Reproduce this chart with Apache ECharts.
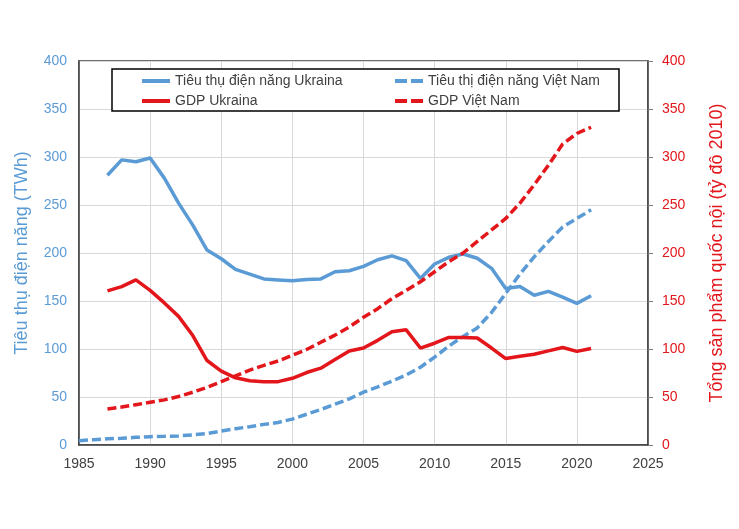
<!DOCTYPE html>
<html>
<head>
<meta charset="utf-8">
<script src="https://cdn.jsdelivr.net/npm/echarts@6/dist/echarts.min.js"></script>
<style>
html,body{margin:0;padding:0;background:#fff;}
#chart{width:739px;height:529px;}
</style>
</head>
<body>
<div id="chart"></div>
<script>
// Data
const years = [1985,1986,1987,1988,1989,1990,1991,1992,1993,1994,1995,1996,1997,1998,1999,2000,2001,2002,2003,2004,2005,2006,2007,2008,2009,2010,2011,2012,2013,2014,2015,2016,2017,2018,2019,2020,2021];
const elecUkraine = [null,null,281,297,295,299,278,252,229,203,194,183,178,173,172,171,172.5,173,180.5,181.5,186,193,197,192,173.5,188.5,195.5,199,194.5,184,163,165,156,160,154,147.5,155.5];
const elecVietnam = [4.5,5.5,6.5,7,8,8.7,9,9.5,10.5,12,14.5,17,19,21.5,23.5,27,32,37,42.5,48,55,60.5,66.5,73,81,91.5,103,113,122,138,158,178,196,212,227,236,245];
const gdpUkraine = [null,null,160.5,165,172,161,148,134,114,88,77,70,67,66,66,69.5,75.5,80,89,98,101,109,118,120,101,106,112,112,111.5,101,90,92.5,94.5,98,101.5,97.5,100.5];
const gdpVietnam = [null,null,37.5,39.5,42,44.5,47,50.5,55,60,66,72,78,83,87.5,93.5,99.5,107,114.5,123,133,142,152.5,161,170,180.5,191,200,212,224,236,252,271,291.5,313.5,324.5,331];
const names = ['Tiêu thụ điện năng Ukraina','Tiêu thị điện năng Việt Nam','GDP Ukraina','GDP Việt Nam'];

const BLUE = '#5B9BD5';
const RED = '#E3161B';
const FONT = 'Liberation Sans, Arial, sans-serif';

function pairs(arr){ return years.map((y,i)=>[y, arr[i]]).filter(p=>p[1]!==null); }

const legendBase = {
  orient:'vertical', top:74, itemWidth:28, itemHeight:14, itemGap:6, z:60, padding:0,
  itemStyle:{color:'rgba(0,0,0,0)', borderColor:'rgba(0,0,0,0)', borderWidth:0},
  textStyle:{fontFamily:FONT, fontSize:14, color:'#404040'}
};

const chart = echarts.init(document.getElementById('chart'), null, {renderer:'canvas'});
chart.setOption({
  animation:false,
  backgroundColor:'#fff',
  textStyle:{fontFamily:FONT},
  grid:{left:79, right:91, top:61, bottom:84, show:true, borderColor:'#404040', borderWidth:1.5, containLabel:false},
  graphic:[{
    type:'rect', z:50, shape:{x:112, y:69, width:507, height:42},
    style:{fill:'#fff', stroke:'#000', lineWidth:1.5}
  }],
  legend:[
    Object.assign({}, legendBase, {left:140, data:[names[0], names[2]], lineStyle:{width:4}}),
    Object.assign({}, legendBase, {left:393, data:[names[1], names[3]], lineStyle:{width:4, type:[12,4]}})
  ],
  xAxis:{
    type:'value', min:1985, max:2025, interval:5,
    axisLine:{show:true, lineStyle:{color:'#404040', width:1.5}},
    axisTick:{show:false},
    axisLabel:{color:'#404040', fontSize:14, fontFamily:FONT, margin:12, formatter:v=>String(v)},
    splitLine:{show:true, lineStyle:{color:'#D9D9D9', width:1}}
  },
  yAxis:[{
    type:'value', min:0, max:400, interval:50, position:'left',
    name:'Tiêu thụ điện năng (TWh)', nameLocation:'middle', nameGap:48,
    nameTextStyle:{color:BLUE, fontSize:18, fontFamily:FONT},
    axisLine:{show:true, lineStyle:{color:'#404040', width:1.5}},
    axisTick:{show:false},
    axisLabel:{color:BLUE, fontSize:14, fontFamily:FONT, margin:12},
    splitLine:{show:true, lineStyle:{color:'#D9D9D9', width:1}}
  },{
    type:'value', min:0, max:400, interval:50, position:'right',
    name:'Tổng sản phẩm quốc nội (tỷ đô 2010)', nameLocation:'middle', nameGap:60,
    nameTextStyle:{color:RED, fontSize:18, fontFamily:FONT},
    axisLine:{show:true, lineStyle:{color:'#404040', width:1.5}},
    axisTick:{show:true, length:5, lineStyle:{color:'#808080'}},
    axisLabel:{color:RED, fontSize:14, fontFamily:FONT, margin:14},
    splitLine:{show:false}
  }],
  series:[
    {name:names[0], type:'line', yAxisIndex:0, data:pairs(elecUkraine), showSymbol:false, symbol:'none',
      lineStyle:{color:BLUE, width:3.5}, itemStyle:{color:BLUE}},
    {name:names[1], type:'line', yAxisIndex:0, data:pairs(elecVietnam), showSymbol:false, symbol:'none',
      lineStyle:{color:BLUE, width:3.5, type:[9,4]}, itemStyle:{color:BLUE}},
    {name:names[2], type:'line', yAxisIndex:1, data:pairs(gdpUkraine), showSymbol:false, symbol:'none',
      lineStyle:{color:RED, width:3.5}, itemStyle:{color:RED}},
    {name:names[3], type:'line', yAxisIndex:1, data:pairs(gdpVietnam), showSymbol:false, symbol:'none',
      lineStyle:{color:RED, width:3.5, type:[9,4]}, itemStyle:{color:RED}}
  ]
});
</script>
</body>
</html>
